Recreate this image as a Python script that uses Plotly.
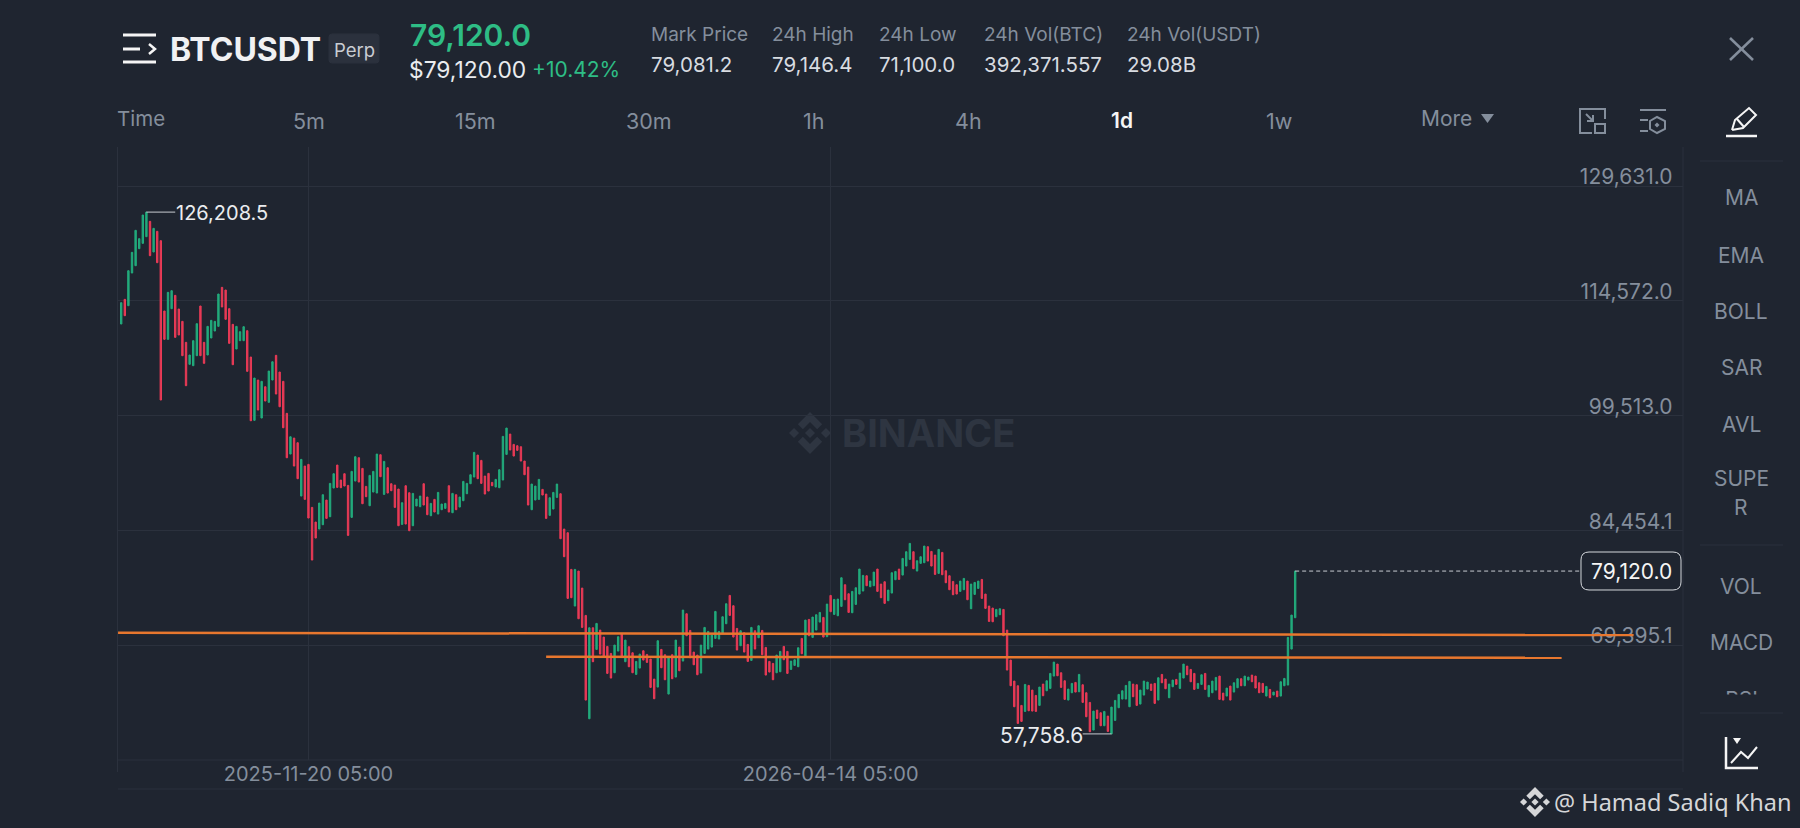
import pandas as pd
import plotly.graph_objects as go

# daily candles
opens = [
    111527, 114763, 113932, 118217, 119179, 121410, 122109, 122984, 124995, 120972,
    123684, 122459, 113232, 109515, 113538, 115287, 113494, 111876, 109122, 106236,
    106061, 107372, 113888, 109122, 107460, 109690, 110608, 111220, 116337, 115987,
    113538, 111483, 108247, 109340, 109340, 110652, 107197, 98891, 104179, 99193,
    103299, 101252, 104178, 107419, 105228, 104008, 99809, 94469, 96569, 95956,
    88960, 92895, 93114, 87473, 85548, 84630, 85199, 88435, 86249, 90009,
    93027, 91059, 91890, 90359, 86161, 90928, 93989, 92589, 90228, 87691,
    89485, 89353, 94382, 89178, 92677, 90578, 90403, 89878, 85243, 90315,
    89397, 85068, 87648, 87560, 90578, 88829, 86380, 88522, 86598, 87167,
    87342, 90315, 86773, 89135, 87517, 88347, 89266, 90578, 91452, 94338,
    93639, 91583, 91933, 90753, 90140, 90053, 91059, 94426, 97093, 95738,
    95563, 95432, 93551, 92764, 87167, 88435, 88522, 89834, 89222, 86423,
    87254, 88785, 89266, 84630, 84149, 79338, 74528, 79119, 76889, 73303,
    59747, 71685, 68843, 71379, 70461, 69236, 68318, 65781, 68624, 70854,
    67225, 69193, 68405, 65563, 66394, 68667, 68187, 67575, 64951, 63901,
    68843, 68143, 62983, 68143, 65213, 69149, 67312, 73522, 71335, 68493,
    68099, 65738, 68318, 68886, 69149, 70286, 70199, 70942, 72210, 75927,
    74571, 71598, 69324, 71029, 69499, 67400, 71292, 70373, 71335, 69105,
    67268, 67006, 65781, 65913, 69236, 68580, 66219, 66744, 66569, 70286,
    67881, 72778, 70417, 71379, 72428, 73041, 70505, 75927, 73434, 73259,
    74484, 77326, 76146, 73653, 74746, 76102, 76496, 78507, 77064, 77195,
    79382, 77414, 77720, 75227, 76233, 77982, 79382, 78594, 79775, 80650,
    81656, 79119, 80125, 80213, 82312, 81699, 81218, 78813, 81568, 79163,
    78507, 77764, 77326, 76452, 76670, 77807, 74178, 76058, 76845, 78026,
    76102, 74528, 74265, 73128, 73391, 74090, 71379, 67443, 64688, 64076,
    61496, 60709, 64120, 63507, 62808, 61496, 64295, 63420, 63726, 65344,
    66918, 65782, 64732, 62196, 63158, 64513, 63289, 64207, 63158, 61890,
    58260, 60884, 60534, 58829, 60096, 57758.6, 59528, 61190, 62327, 62327,
    61321, 64295, 64207, 61671, 62851, 63639, 64295, 64382, 62196, 65563,
    64951, 62502, 63945, 64907, 63726, 65082, 66656, 66219, 65694, 63726,
    64251, 65694, 62633, 63158, 63507, 65344, 63114, 62720, 64033, 63245,
    63814, 65000, 64076, 64820, 65475, 65344, 64470, 64382, 62720, 63595,
    62851, 63376, 62720, 64076, 64163, 68886, 72997,
]
closes = [
    114325, 112620, 118523, 120929, 123815, 122721, 125826, 126208.5, 120491, 124077,
    119573, 101556, 109515, 115681, 115900, 109777, 110083, 107372, 103437, 107460,
    109340, 111570, 107372, 106367, 111220, 112008, 111876, 115462, 113757, 112139,
    108990, 106192, 111220, 110521, 111177, 105317, 98838, 104441, 100242, 104008,
    101423, 105359, 106579, 102341, 100675, 97920, 93984, 96739, 92895, 91234,
    93770, 88522, 86073, 80564, 83450, 88041, 89135, 86030, 90622, 91890,
    90097, 90053, 90272, 83800, 92196, 94120, 90796, 87954, 88872, 91671,
    92196, 94470, 91496, 93508, 89353, 89659, 87473, 85068, 88085, 85286,
    84412, 89310, 88566, 88960, 87779, 86511, 87998, 86861, 89441, 87910,
    87998, 86861, 89310, 87167, 88829, 90884, 90622, 91758, 94688, 91234,
    90622, 89222, 89616, 90315, 91146, 92414, 96787, 97881, 94994, 94207,
    94951, 93551, 91758, 87779, 90534, 90272, 91146, 89091, 86030, 88741,
    89441, 90534, 83362, 81001, 75534, 75621, 79338, 72866, 71729, 62196,
    71685, 67225, 72254, 68230, 67968, 65694, 65082, 69411, 70505, 67968,
    70067, 66569, 65781, 67268, 68230, 67443, 67137, 63857, 62371, 69980,
    66437, 64863, 67793, 64995, 70067, 66044, 74003, 70636, 67750, 66831,
    65519, 69411, 71729, 71204, 70723, 73828, 71204, 73128, 74834, 73303,
    70461, 68755, 71292, 68493, 67268, 71729, 68886, 71947, 68143, 65475,
    65869, 64863, 68099, 68580, 67487, 65694, 67312, 67487, 69061, 68274,
    72691, 70636, 73085, 73391, 73697, 70461, 74790, 73784, 75402, 75446,
    78245, 75358, 73697, 76452, 76933, 79382, 78551, 77195, 77807, 78988,
    76452, 75621, 74878, 76627, 78901, 79075, 78026, 80781, 81656, 82749,
    79426, 80475, 81000, 82399, 80431, 79775, 78682, 81962, 78638, 77589,
    76670, 76014, 76102, 77807, 78157, 75358, 77414, 77632, 77807, 75533,
    74222, 72516, 72472, 74090, 74178, 70636, 66131, 64076, 61321, 59134,
    59397, 64251, 60796, 60753, 60709, 63901, 62764, 64732, 65694, 67181,
    65388, 63857, 62283, 63639, 64382, 63245, 65563, 61890, 60009, 58041,
    60753, 59790, 58829, 60709, 58085, 61277, 62152, 62939, 63420, 64120,
    64644, 62633, 61496, 63507, 64688, 64557, 63463, 61758, 65125, 64470,
    63682, 64295, 64820, 64251, 65738, 66918, 65519, 64601, 63595, 64382,
    65519, 63595, 64120, 64688, 65169, 62283, 62196, 63770, 62196, 64470,
    65000, 64076, 65344, 65213, 64601, 63770, 63158, 63201, 63988, 62502,
    63245, 62633, 64601, 65038, 70417, 73347, 79120,
]
first_day = "2025-09-29 05:00"

price_ticks = [129631.0, 114572.0, 99513.0, 84454.1, 69395.1, 54336.1]
price_labels = ["129,631.0", "114,572.0", "99,513.0", "84,454.1", "69,395.1", "54,336.1"]
time_ticks = ["2025-11-20 05:00", "2026-04-14 05:00"]

# hand drawn levels
level_a_x = ["2025-09-28 08:00", "2026-11-23 05:00"]
level_a_y = [71024, 70722]
level_b_x = ["2026-01-25 05:00", "2026-11-03 05:00"]
level_b_y = [67874, 67743]

last_price = 79120.0
high_price = 126208.5
low_price = 57758.6
label_x = "2026-12-04 00:00"

stat_names = ["Mark Price", "24h High", "24h Low", "24h Vol(BTC)", "24h Vol(USDT)"]
stat_values = ["79,081.2", "79,146.4", "71,100.0", "392,371.557", "29.08B"]
stat_left = [650, 771, 878, 983, 1126]
periods = ["5m", "15m", "30m", "1h", "4h", "1d", "1w"]
period_center = [309, 476, 649, 813, 968, 1122, 1279]
side_items = ["MA", "EMA", "BOLL", "SAR", "AVL", "SUPE", "R", "VOL", "MACD"]
side_center = [198, 255, 311, 367, 424, 478, 507, 586, 642]

BG = "#1F2530"
GRID = "#2B313D"
GRAY = "#848E9C"
LIGHT = "#EAECEF"
UP = "#22AB7C"
DOWN = "#E93A56"
ORANGE = "#E8772E"
FONT = "Inter"
W, H = 1800, 828

dates = pd.date_range(first_day, periods=len(opens), freq="D")
highs = [max(o, c) for o, c in zip(opens, closes)]
lows = [min(o, c) for o, c in zip(opens, closes)]

fig = go.Figure()

# price scale labels sit under the drawn lines, nudged down a bit like the app does
fig.add_trace(go.Scatter(x=[label_x] * len(price_ticks), y=[p - 450 for p in price_ticks], text=price_labels,
                         mode="text", textposition="top left", cliponaxis=False,
                         textfont=dict(family=FONT, size=21, color=GRAY), hoverinfo="skip"))
fig.add_trace(go.Candlestick(x=dates, open=opens, high=highs, low=lows, close=closes,
                             increasing=dict(line=dict(color=UP, width=1), fillcolor=UP),
                             decreasing=dict(line=dict(color=DOWN, width=1), fillcolor=DOWN),
                             whiskerwidth=0, hoverinfo="skip"))
fig.add_trace(go.Scatter(x=level_a_x, y=level_a_y, mode="lines", line=dict(color=ORANGE, width=2.5), hoverinfo="skip"))
fig.add_trace(go.Scatter(x=level_b_x, y=level_b_y, mode="lines", line=dict(color=ORANGE, width=2.5), hoverinfo="skip"))

# last price line, high and low markers
fig.add_trace(go.Scatter(x=[dates[-1], "2026-11-08 05:00"], y=[last_price, last_price], mode="lines",
                         line=dict(color="#C8CCD2", width=1, dash="4px,3px"), hoverinfo="skip"))
fig.add_trace(go.Scatter(x=[dates[7], dates[15]], y=[high_price, high_price], mode="lines",
                         line=dict(color="#C8CCD2", width=1), hoverinfo="skip"))
fig.add_trace(go.Scatter(x=[dates[275], dates[267]], y=[low_price, low_price], mode="lines",
                         line=dict(color="#C8CCD2", width=1), hoverinfo="skip"))
fig.add_annotation(x=dates[15], y=high_price, text="126,208.5", showarrow=False, xanchor="left", yanchor="middle",
                   yshift=-1, xshift=-1, font=dict(family=FONT, size=20, color=LIGHT))
fig.add_annotation(x=dates[267], y=low_price, text="57,758.6", showarrow=False, xanchor="right", yanchor="middle",
                   yshift=-2, xshift=2, font=dict(family=FONT, size=21, color=LIGHT))

# RSI is cut off by the scrolling side menu, so it lives on a tiny clipped axis
fig.add_trace(go.Scatter(x=[0.5], y=[0.2], text=["RSI"], mode="text", textposition="bottom center",
                         textfont=dict(family=FONT, size=21, color=GRAY), xaxis="x2", yaxis="y2",
                         hoverinfo="skip"))


def px(x):
    return x / W


def py(y):
    return 1 - y / H


def text(x, y, s, size=18, color=GRAY, anchor="left", weight=400, family=FONT):
    fig.add_annotation(xref="paper", yref="paper", x=px(x), y=py(y), text=s, showarrow=False,
                       xanchor=anchor, yanchor="middle", borderpad=0,
                       font=dict(family=family, size=size, color=color, weight=weight))


def line(x0, y0, x1, y1, color=GRID, width=1, layer="above"):
    fig.add_shape(type="line", xref="paper", yref="paper", x0=px(x0), y0=py(y0), x1=px(x1), y1=py(y1),
                  line=dict(color=color, width=width), layer=layer)


def path(points, color=GRAY, width=2, fill=None, closed=False, layer="above"):
    d = "M " + " L ".join(f"{px(a):.5f},{py(b):.5f}" for a, b in points) + (" Z" if closed else "")
    fig.add_shape(type="path", xref="paper", yref="paper", path=d, layer=layer,
                  line=dict(color=color, width=width), fillcolor=fill)


def diamond(cx, cy, r, color, layer="above"):
    path([(cx, cy - r), (cx + r, cy), (cx, cy + r), (cx - r, cy)], color=color, width=0, fill=color, closed=True, layer=layer)


def binance_logo(cx, cy, r, color, layer="above"):
    for s in (1, -1):
        path([(cx - 0.58 * r, cy - s * 0.42 * r), (cx, cy - s * r), (cx + 0.58 * r, cy - s * 0.42 * r),
              (cx + 0.34 * r, cy - s * 0.18 * r), (cx, cy - s * 0.52 * r), (cx - 0.34 * r, cy - s * 0.18 * r)],
             color=color, width=0, fill=color, closed=True, layer=layer)
    diamond(cx, cy, 0.24 * r, color, layer)
    diamond(cx - 0.76 * r, cy, 0.24 * r, color, layer)
    diamond(cx + 0.76 * r, cy, 0.24 * r, color, layer)


def round_box(x0, y0, x1, y1, r, color, fill):
    corners = [
        f"M {px(x0 + r):.5f},{py(y0):.5f}", f"L {px(x1 - r):.5f},{py(y0):.5f}",
        f"Q {px(x1):.5f},{py(y0):.5f} {px(x1):.5f},{py(y0 + r):.5f}", f"L {px(x1):.5f},{py(y1 - r):.5f}",
        f"Q {px(x1):.5f},{py(y1):.5f} {px(x1 - r):.5f},{py(y1):.5f}", f"L {px(x0 + r):.5f},{py(y1):.5f}",
        f"Q {px(x0):.5f},{py(y1):.5f} {px(x0):.5f},{py(y1 - r):.5f}", f"L {px(x0):.5f},{py(y0 + r):.5f}",
        f"Q {px(x0):.5f},{py(y0):.5f} {px(x0 + r):.5f},{py(y0):.5f}", "Z",
    ]
    fig.add_shape(type="path", xref="paper", yref="paper", path=" ".join(corners), fillcolor=fill,
                  line=dict(color=color, width=1), layer="above")


# header
line(123, 35, 156, 35, "#F5F5F5", 3)
line(123, 49, 140, 49, "#F5F5F5", 3)
line(123, 62, 156, 62, "#F5F5F5", 3)
path([(149, 44), (155, 49), (149, 54)], "#F5F5F5", 2.5)
text(169, 49, "BTCUSDT", 32, "#F0F1F3", weight=700)
round_box(329, 34, 379, 63, 3, "#2B313D", "#2B313D")
text(354, 50, "Perp", 18.5, "#C9CDD3", anchor="center")
text(409, 35, "79,120.0", 30, "#2EBD85", weight=600)
text(408, 69, "$79,120.00", 22.8, LIGHT)
text(531, 69, "+10.42%", 21, "#2EBD85")
for name, value, left in zip(stat_names, stat_values, stat_left):
    text(left, 35, name, 19, GRAY)
    text(left, 64, value, 20.5, "#D8DCE1")

# period tabs
text(116, 119, "Time", 20.5, GRAY)
for name, center in zip(periods, period_center):
    if name == "1d":
        text(center, 121, name, 21, "#F5F5F5", anchor="center", weight=600)
    else:
        text(center, 121, name, 21.5, GRAY, anchor="center")
text(1420, 119, "More", 21, GRAY)
path([(1481, 114), (1494, 114), (1487.5, 123)], GRAY, 0, fill=GRAY, closed=True)

# small toolbar icons
path([(1592, 133), (1580, 133), (1580, 109), (1605, 109), (1605, 119)], GRAY, 2)
fig.add_shape(type="rect", xref="paper", yref="paper", x0=px(1595), x1=px(1605), y0=py(124), y1=py(133),
              line=dict(color=GRAY, width=2))
line(1586, 114, 1593, 121, GRAY, 2)
path([(1593, 115), (1593, 121), (1587, 121)], GRAY, 2)
line(1640, 110, 1666, 110, GRAY, 2)
line(1640, 120, 1648, 120, GRAY, 2)
line(1640, 131, 1648, 131, GRAY, 2)
path([(1657, 117), (1665, 121), (1665, 129), (1657, 133), (1650, 129), (1650, 121)], GRAY, 2, closed=True)
diamond(1657, 125, 2.5, GRAY)
line(1730, 38, 1753, 60, GRAY, 2.5)
line(1753, 38, 1730, 60, GRAY, 2.5)
path([(1732, 130), (1735, 120), (1749, 108), (1756, 115), (1743, 128), (1732, 130)], "#F5F5F5", 2)
line(1737, 119, 1744, 127, "#F5F5F5", 2)
line(1726, 136, 1757, 136, "#F5F5F5", 2.5)

# right menu
line(1700, 161, 1783, 161)
line(1700, 545, 1783, 545)
line(1700, 713, 1783, 713)
for name, center in zip(side_items, side_center):
    text(1741, center, name, 21, GRAY, anchor="center")
path([(1726, 737), (1726, 768), (1758, 768)], "#F5F5F5", 2.5)
path([(1731, 763), (1741, 752), (1748, 758), (1757, 747)], "#F5F5F5", 2)
path([(1733, 738), (1741, 738), (1737, 744)], "#F5F5F5", 0, fill="#F5F5F5", closed=True)

# frame of the chart pane
line(117.5, 147, 117.5, 772)
line(1683, 147, 1683, 772)
line(118, 760, 1683, 760)
line(118, 789, 1683, 789)

# last price tag
round_box(1581, 552, 1681, 590, 8, "#D5D8DC", BG)
text(1631, 571, "79,120.0", 21, "#F5F5F5", anchor="center")

# watermarks
binance_logo(810, 433, 21, "#2E3541", layer="below")
text(841, 433, "BINANCE", 38, "#2E3541", weight=700)
binance_logo(1535, 802, 15, "#D5D6D8")
text(1553, 802, "@ Hamad Sadiq Khan", 23.5, "#D5D6D8", family="Noto Sans")

fig.update_layout(
    width=W, height=H, showlegend=False, margin=dict(l=0, r=0, t=0, b=0),
    paper_bgcolor=BG, plot_bgcolor=BG, boxgap=0.45,
    xaxis=dict(domain=[px(118), px(1683)], type="date", range=["2025-09-28 07:40", "2026-12-06 21:48"],
               rangeslider=dict(visible=False), tickvals=time_ticks, ticktext=time_ticks, ticks="",
               showgrid=True, gridcolor=GRID, gridwidth=1, zeroline=False, showline=False,
               tickfont=dict(family=FONT, size=20, color=GRAY)),
    yaxis=dict(domain=[py(760), py(147)], range=[54336.1, 134748], tickvals=price_ticks, showticklabels=False,
               ticks="", showgrid=True, gridcolor=GRID, gridwidth=1, zeroline=False, showline=False),
    xaxis2=dict(domain=[px(1700), px(1783)], range=[0, 1], visible=False, anchor="y2"),
    yaxis2=dict(domain=[py(694.5), py(680)], range=[0, 1], visible=False, anchor="x2"),
)

fig.write_html("out.html", config={"displayModeBar": False},
               post_script="document.body.style.margin='0';document.body.style.background='#1F2530';")
